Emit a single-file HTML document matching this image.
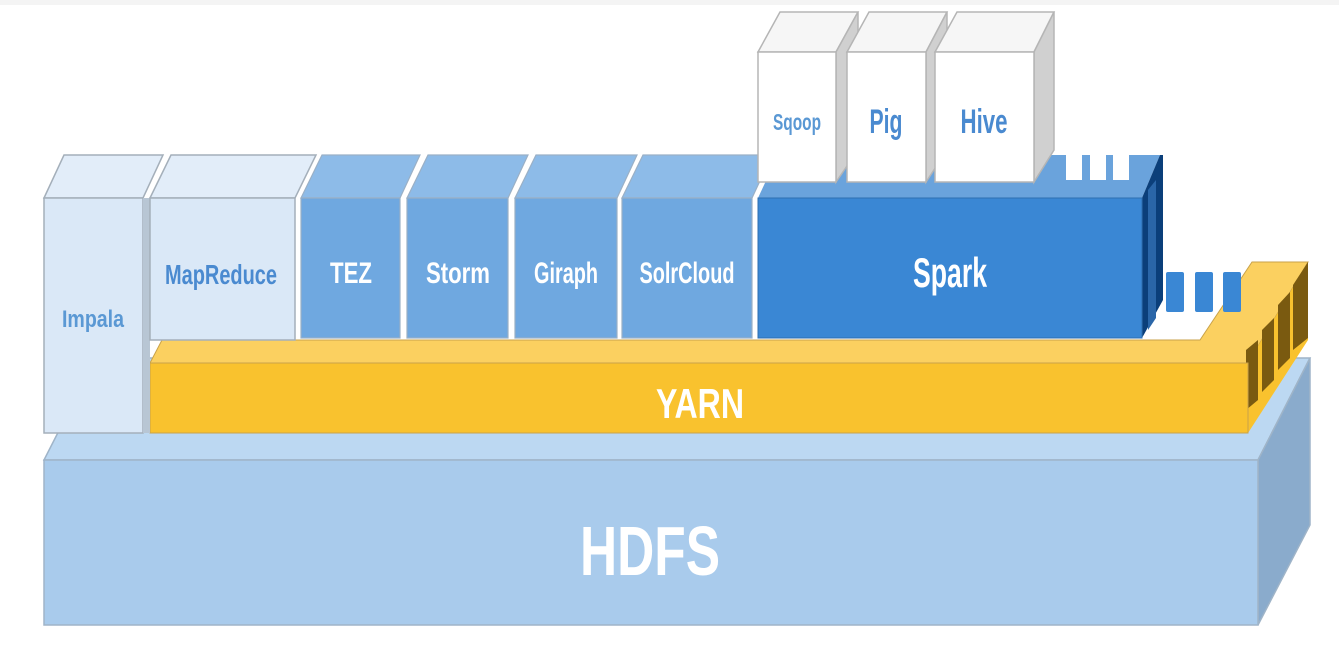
<!DOCTYPE html>
<html><head><meta charset="utf-8"><style>
html,body{margin:0;padding:0;background:#fff;}
svg{display:block}
text{font-family:"Liberation Sans",sans-serif;font-weight:bold;text-anchor:middle;}
</style></head><body>
<svg width="1339" height="651" viewBox="0 0 1339 651" xmlns="http://www.w3.org/2000/svg">
<rect x="0" y="0" width="1339" height="5" fill="#f4f4f4"/>
<!-- HDFS -->
<polygon points="44,460 96,358 1310,358 1258,460" fill="#bcd8f2" stroke="#9fb4c8" stroke-width="1.5"/>
<polygon points="1258,460 1310,358 1310,525 1258,625" fill="#8aabcc" stroke="#9fb4c8" stroke-width="1.5"/>
<rect x="44" y="460" width="1214" height="165" fill="#a9cbec" stroke="#9fb4c8" stroke-width="1.5"/>
<text x="650" y="575" font-size="70" fill="#fff" textLength="140" lengthAdjust="spacingAndGlyphs">HDFS</text>
<!-- YARN -->
<polygon points="150,363 162,340 1200,340 1252,262 1308,262 1248,363" fill="#fbd060" stroke="#c9a24a" stroke-width="1"/>
<polygon points="1248,363 1308,262 1308,340 1248,433" fill="#f9c22e"/>
<polygon points="1246,350 1258,340 1258,400 1246,410" fill="#7a5a10"/>
<polygon points="1262,330 1274,318 1274,380 1262,392" fill="#7a5a10"/>
<polygon points="1278,305 1290,292 1290,358 1278,370" fill="#7a5a10"/>
<polygon points="1293,285 1308,262 1308,338 1293,350" fill="#7a5a10"/>
<rect x="150" y="363" width="1098" height="70" fill="#f9c22e" stroke="#c9a24a" stroke-width="1"/>
<text x="700" y="418" font-size="42" fill="#fff" textLength="88" lengthAdjust="spacingAndGlyphs">YARN</text>
<rect x="1166" y="272" width="18" height="40" fill="#3a87d4" rx="2"/>
<rect x="1195" y="272" width="18" height="40" fill="#3a87d4" rx="2"/>
<rect x="1223" y="272" width="18" height="40" fill="#3a87d4" rx="2"/>
<!-- Impala -->
<polygon points="44,198 64,155 163,155 143,198" fill="#e2edf9" stroke="#a4afba" stroke-width="1.5"/>
<rect x="44" y="198" width="99" height="235" fill="#dae8f7" stroke="#a4afba" stroke-width="1.5"/>
<text x="93" y="327" font-size="24" fill="#5a98d4" textLength="62" lengthAdjust="spacingAndGlyphs">Impala</text>
<!-- MapReduce -->
<polygon points="150,198 171,155 316,155 295,198" fill="#e2edf9" stroke="#a4afba" stroke-width="1.5"/>
<rect x="143" y="198" width="7" height="235" fill="#b8c6d4"/>
<rect x="150" y="198" width="145" height="142" fill="#dae8f7" stroke="#a4afba" stroke-width="1.5"/>
<text x="221" y="284" font-size="28" fill="#4a8ad0" textLength="112" lengthAdjust="spacingAndGlyphs">MapReduce</text>
<g stroke="#9ab0c6" stroke-width="1.2">
<polygon points="301,198 322,155 420,155 400,198" fill="#8dbbe8"/>
<rect x="301" y="198" width="99" height="140" fill="#6fa8e0"/>
<polygon points="407,198 428,155 528,155 508,198" fill="#8dbbe8"/>
<rect x="407" y="198" width="101" height="140" fill="#6fa8e0"/>
<polygon points="515,198 536,155 637,155 617,198" fill="#8dbbe8"/>
<rect x="515" y="198" width="102" height="140" fill="#6fa8e0"/>
<polygon points="622,198 643,155 772,155 752,198" fill="#8dbbe8"/>
<rect x="622" y="198" width="130" height="140" fill="#6fa8e0"/>
</g>
<text x="351" y="283" font-size="30" fill="#fff" textLength="42" lengthAdjust="spacingAndGlyphs">TEZ</text>
<text x="458" y="283" font-size="30" fill="#fff" textLength="64" lengthAdjust="spacingAndGlyphs">Storm</text>
<text x="566" y="283" font-size="30" fill="#fff" textLength="64" lengthAdjust="spacingAndGlyphs">Giraph</text>
<text x="687" y="283" font-size="30" fill="#fff" textLength="95" lengthAdjust="spacingAndGlyphs">SolrCloud</text>
<!-- Spark -->
<polygon points="758,198 778,155 1160,155 1142,198" fill="#6aa3dc"/>
<polygon points="1142,198 1160,155 1163,155 1163,300 1142,338" fill="#0b3f7a"/>
<polygon points="1148,190 1156,180 1156,318 1148,330" fill="#2a66a8"/>
<rect x="758" y="198" width="384" height="140" fill="#3a87d4" stroke="#2f6fb0" stroke-width="1"/>
<text x="950" y="287" font-size="42" fill="#fff" textLength="74" lengthAdjust="spacingAndGlyphs">Spark</text>
<rect x="1066" y="150" width="16" height="30" fill="#fff"/>
<rect x="1090" y="150" width="16" height="30" fill="#fff"/>
<rect x="1113" y="150" width="16" height="30" fill="#fff"/>
<g stroke="#b5b5b5" stroke-width="1.5">
<polygon points="758,52 780,12 858,12 836,52" fill="#f6f6f6"/>
<polygon points="836,52 858,12 858,150 836,182" fill="#d0d0d0"/>
<rect x="758" y="52" width="78" height="130" fill="#fff"/>
<polygon points="847,52 869,12 947,12 926,52" fill="#f6f6f6"/>
<polygon points="926,52 947,12 947,150 926,182" fill="#d0d0d0"/>
<rect x="847" y="52" width="79" height="130" fill="#fff"/>
<polygon points="935,52 957,12 1054,12 1034,52" fill="#f6f6f6"/>
<polygon points="1034,52 1054,12 1054,150 1034,182" fill="#d0d0d0"/>
<rect x="935" y="52" width="99" height="130" fill="#fff"/>
</g>
<text x="797" y="130" font-size="23" fill="#5a98d4" textLength="48" lengthAdjust="spacingAndGlyphs">Sqoop</text>
<text x="886" y="133" font-size="34" fill="#4a8ad0" textLength="33" lengthAdjust="spacingAndGlyphs">Pig</text>
<text x="984" y="133" font-size="34" fill="#4a8ad0" textLength="47" lengthAdjust="spacingAndGlyphs">Hive</text>
</svg>
</body></html>
